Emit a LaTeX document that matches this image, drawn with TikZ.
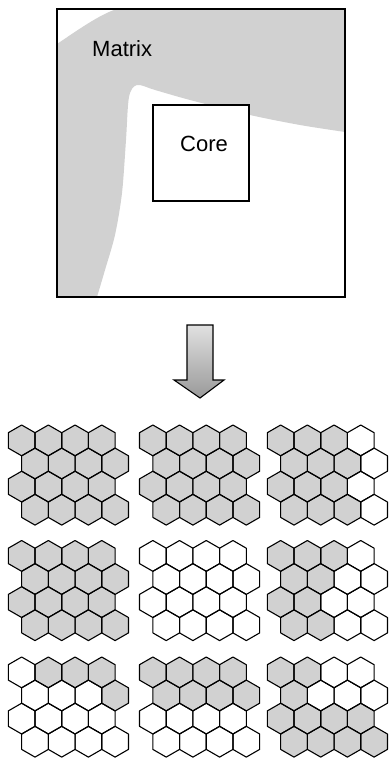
\documentclass[tikz,border=0pt]{standalone}
\usepackage{fontspec}
\setmainfont{Liberation Sans}
\begin{document}
\tikzset{
  hexline/.style={draw=black, line width=1.1pt, line join=round},
  hexfill/.style={fill=black!18},
  matrixfill/.style={fill=black!18},
  boxline/.style={draw=black, line width=1.1pt},
  lbl/.style={font=\fontsize{22}{26}\selectfont, inner sep=0pt, anchor=base west}
}
\newcommand{\hexcell}[5]{%
  \pgfmathsetmacro\hcx{#1+13.35+#4*26.7+mod(#3,2)*13.35}%
  \pgfmathsetmacro\hcy{#2+15.4+#3*23.1}%
  \path[#5] (\hcx,\hcy-15.4) -- (\hcx+13.35,\hcy-7.7) -- (\hcx+13.35,\hcy+7.7) -- (\hcx,\hcy+15.4) -- (\hcx-13.35,\hcy+7.7) -- (\hcx-13.35,\hcy-7.7) -- cycle;}
\newcommand{\hexfills}[3]{\foreach \hr/\hc in {#3} {\hexcell{#1}{#2}{\hr}{\hc}{hexfill}}}
\newcommand{\hexfullfill}[2]{\foreach \hr in {0,...,3} {\foreach \hc in {0,...,3} {\hexcell{#1}{#2}{\hr}{\hc}{hexfill}}}}
\newcommand{\hexlines}[2]{\foreach \hr in {0,...,3} {\foreach \hc in {0,...,3} {\hexcell{#1}{#2}{\hr}{\hc}{hexline}}}}
\begin{tikzpicture}[x=1pt,y=-1pt]
\useasboundingbox (0,0) rectangle (388,759);
% matrix shading
\fill[matrixfill] (57,44) .. controls (75,32) and (100,14) .. (117,9) -- (345,9) -- (345,132)
  -- plot[smooth] coordinates {(345,132) (300,125) (250,115) (190,100) (155,90) (137,85) (129,97) (126,140) (122,193) (115,235) (105,270) (97,297)}
  -- (57,297) -- cycle;
\node[boxline, minimum width=288pt, minimum height=288pt, inner sep=0pt] (outer) at (201,153) {};
\node[boxline, fill=white, minimum width=96pt, minimum height=96pt, inner sep=0pt] (core) at (201,153) {};
\node[lbl] (matrixlbl) at (92,57) {Matrix};
\node[lbl] (corelbl) at (180,151.7) {Core};
% arrow
\path[top color=black!12, bottom color=black!40, draw=black, line width=1.1pt, line join=miter]
  (187,325) -- (213,325) -- (213,380) -- (224,380) -- (200,398) -- (174,380) -- (187,380) -- cycle;
% hex grids
\hexfullfill{8.3}{425}
\hexfullfill{139.5}{425}
\hexfills{267.3}{425}{0/0,0/1,0/2,1/0,1/1,1/2,2/0,2/1,2/2,3/0,3/1,3/2}
\hexfullfill{8.3}{540.5}
\hexfills{267.3}{540.5}{0/0,0/1,0/2,1/0,1/1,2/0,2/1,3/0,3/1}
\hexfills{8.3}{657}{0/1,0/2,0/3,1/3}
\hexfills{139.5}{657}{0/0,0/1,0/2,0/3,1/0,1/1,1/2,1/3}
\hexfills{267.3}{657}{0/0,0/1,1/0,2/0,2/1,2/2,2/3,3/0,3/1,3/2,3/3}
\hexlines{8.3}{425}
\hexlines{139.5}{425}
\hexlines{267.3}{425}
\hexlines{8.3}{540.5}
\hexlines{139.5}{540.5}
\hexlines{267.3}{540.5}
\hexlines{8.3}{657}
\hexlines{139.5}{657}
\hexlines{267.3}{657}
\end{tikzpicture}
\end{document}
